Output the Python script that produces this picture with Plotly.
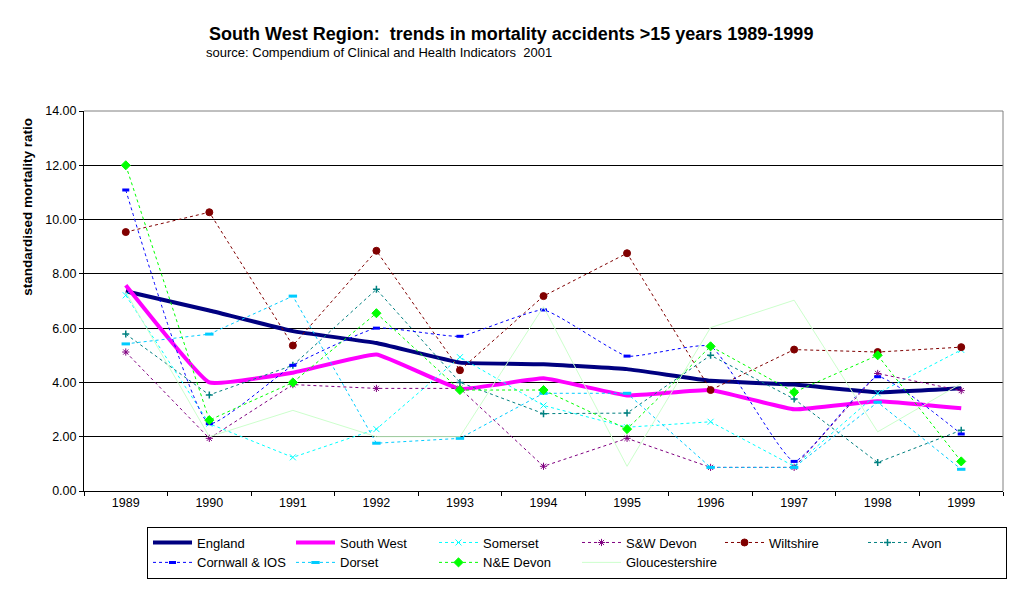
import plotly.graph_objects as go

years = ["1989", "1990", "1991", "1992", "1993", "1994", "1995", "1996", "1997", "1998", "1999"]

england = [7.36, 6.65, 5.89, 5.45, 4.73, 4.67, 4.49, 4.06, 3.92, 3.64, 3.79]
south_west = [7.58, 4.00, 4.36, 5.03, 3.76, 4.15, 3.52, 3.72, 3.01, 3.31, 3.05]
somerset = [7.21, 2.48, 1.24, 2.28, 4.93, 3.15, 2.35, 2.55, 0.91, 3.60, 5.20]
sw_devon = [5.12, 1.94, 3.92, 3.78, 3.78, 0.91, 1.94, 0.87, 0.87, 4.33, 3.70]
wiltshire = [9.54, 10.27, 5.36, 8.85, 4.45, 7.18, 8.76, 3.72, 5.21, 5.12, 5.30]
avon = [5.78, 3.54, 4.63, 7.43, 4.00, 2.85, 2.87, 5.00, 3.39, 1.05, 2.24]
cornwall = [11.09, 2.48, 4.63, 6.00, 5.70, 6.67, 4.97, 5.33, 1.09, 4.21, 2.10]
dorset = [5.42, 5.78, 7.18, 1.76, 1.94, 3.60, 3.60, 0.87, 0.87, 3.27, 0.80]
ne_devon = [12.00, 2.61, 4.00, 6.55, 3.72, 3.72, 2.28, 5.33, 3.64, 5.00, 1.09]
glouc = [7.33, 2.00, 2.97, 2.00, 2.00, 6.79, 0.91, 6.02, 7.03, 2.18, 3.96]

y_ticks = [0, 2, 4, 6, 8, 10, 12, 14]
y_tick_text = ["0.00", "2.00", "4.00", "6.00", "8.00", "10.00", "12.00", "14.00"]

FONT = "Liberation Sans, Arial, sans-serif"
DASH = "3px,3px"

fig = go.Figure()

def add(name, vals, color, width=1, dash=DASH, symbol=None, msize=7, mline=1, shape="linear", smoothing=0.3):
    marker = dict(symbol=symbol, size=msize, color=color, line=dict(color=color, width=mline)) if symbol else None
    fig.add_trace(go.Scatter(
        x=years, y=vals, name=name,
        mode="lines+markers" if symbol else "lines",
        line=dict(color=color, width=width, dash=dash, shape=shape, smoothing=smoothing),
        marker=marker,
    ))

add("England", england, "#000080", width=4, dash="solid", shape="spline", smoothing=0.25)
add("South West", south_west, "#FF00FF", width=4, dash="solid", shape="spline", smoothing=0.3)
add("Somerset", somerset, "#00FFFF", symbol="x-thin-open", msize=6, mline=1)
add("S&W Devon", sw_devon, "#800080", symbol="asterisk-open", msize=6, mline=1)
add("Wiltshire", wiltshire, "#800000", symbol="circle", msize=7)
add("Avon", avon, "#008080", symbol="cross-thin-open", msize=5, mline=1.5)
add("Cornwall & IOS", cornwall, "#0000FF", symbol="line-ew-open", msize=5, mline=3, shape="spline", smoothing=0.4)
add("Dorset", dorset, "#00CCFF", symbol="line-ew-open", msize=6, mline=3)
add("N&E Devon", ne_devon, "#00FF00", symbol="diamond", msize=7)
add("Gloucestershire", glouc, "#CCFFCC", width=1, dash="solid")

L, R, T, B = 84, 17, 111, 95
pw = 1020 - L - R
ph = 591 - T - B

def px(x):
    return (x - L) / pw

def py(y):
    return (591 - B - y) / ph

fig.update_layout(
    width=1020, height=591,
    margin=dict(l=L, r=R, t=T, b=B, pad=0),
    paper_bgcolor="white", plot_bgcolor="white",
    font=dict(family=FONT, size=12, color="black"),
    showlegend=True,
    legend=dict(
        orientation="h", x=px(147), y=py(532), xanchor="left", yanchor="top",
        bordercolor="black", borderwidth=1, bgcolor="white",
        font=dict(family=FONT, size=13, color="black"),
        entrywidth=89, entrywidthmode="pixels",
        tracegroupgap=0, itemwidth=39,
    ),
    xaxis=dict(
        type="category", range=[-0.5, 10.5],
        showline=True, linecolor="black", linewidth=1,
        ticks="outside", tickson="boundaries", ticklen=4, tickcolor="black",
        showgrid=False, zeroline=False,
        tickfont=dict(family=FONT, size=12.5),
    ),
    yaxis=dict(
        range=[0, 14], tickvals=y_ticks, ticktext=y_tick_text,
        showline=True, linecolor="black", linewidth=1,
        ticks="outside", ticklen=4, tickcolor="black",
        showgrid=True, gridcolor="black", gridwidth=1, zeroline=False,
        tickfont=dict(family=FONT, size=12.5),
    ),
    shapes=[
        dict(type="line", xref="paper", yref="paper", x0=0, x1=1, y0=1, y1=1,
             line=dict(color="#808080", width=1), layer="above"),
        dict(type="line", xref="paper", yref="paper", x0=1, x1=1, y0=0, y1=1,
             line=dict(color="#808080", width=1), layer="above"),
    ],
    annotations=[
        dict(text="<b>South West Region:  trends in mortality accidents &gt;15 years 1989-1999</b>",
             xref="paper", yref="paper", x=px(511), y=py(33), xanchor="center", yanchor="middle",
             showarrow=False, font=dict(family=FONT, size=18, color="black")),
        dict(text="source: Compendium of Clinical and Health Indicators  2001",
             xref="paper", yref="paper", x=px(204), y=py(52), xanchor="left", yanchor="middle",
             showarrow=False, font=dict(family=FONT, size=13, color="black")),
        dict(text="<b>standardised mortality ratio</b>", textangle=-90,
             xref="paper", yref="paper", x=px(28), y=py(208), xanchor="center", yanchor="middle",
             showarrow=False, font=dict(family=FONT, size=13.5, color="black")),
    ],
)

fig.write_html("out.html")
